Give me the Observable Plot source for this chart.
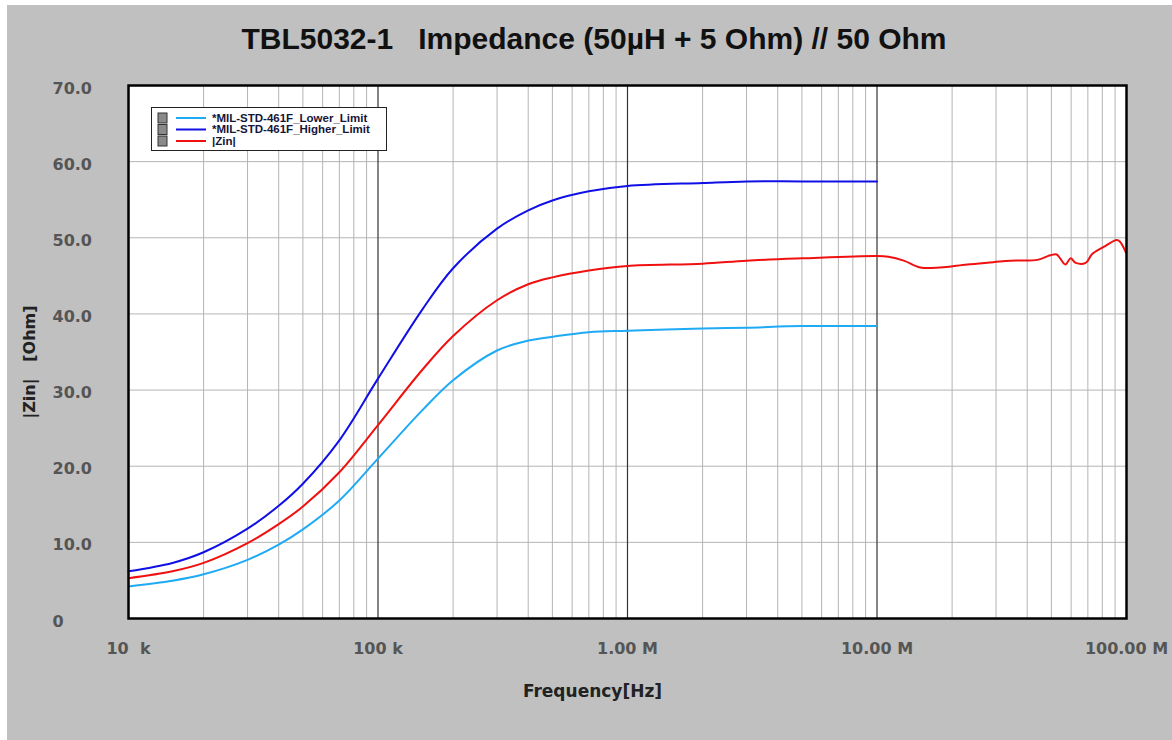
<!DOCTYPE html>
<html>
<head>
<meta charset="utf-8">
<script src="https://cdn.jsdelivr.net/npm/d3@7"></script>
<script src="https://cdn.jsdelivr.net/npm/@observablehq/plot@0.6"></script>
<style>
  html, body { margin: 0; padding: 0; background: #ffffff; }
  #panel { position: absolute; left: 7px; top: 5px; width: 1165px; height: 735px; background: #c0c0c0; font-family: "Liberation Sans", Arial, sans-serif; }
  #title { position: absolute; left: 0; top: 17px; width: 1174px; text-align: center; font-size: 30px; font-weight: bold; color: #111; white-space: pre; }
  #chart { position: absolute; left: 0; top: 0; }
  #legend { position: absolute; left: 0; top: 0; pointer-events: none; }
</style>
</head>
<body>
<div id="panel">
  <div id="chart"></div>
  <div id="title">TBL5032-1   Impedance (50µH + 5 Ohm) // 50 Ohm</div>
  <svg id="legend" width="1165" height="735"></svg>
</div>
<script>
// ---- data ----
const limitFreq   = [1e4, 1.5e4, 2e4, 3e4, 4e4, 5e4, 7e4, 1e5, 1.5e5, 2e5, 3e5, 4e5, 5e5, 7e5, 1e6, 2e6, 3e6, 5e6, 1e7];
const lowerLimit  = [4.2, 4.95, 5.8, 7.7, 9.7, 11.7, 15.5, 21.0, 27.3, 31.3, 35.2, 36.5, 37.0, 37.6, 37.8, 38.1, 38.2, 38.4, 38.4];
const higherLimit = [6.2, 7.3, 8.7, 11.8, 14.8, 17.7, 23.4, 31.5, 40.5, 46.0, 51.2, 53.6, 54.9, 56.1, 56.8, 57.2, 57.4, 57.4, 57.4];
const zinFreq = [1e4, 1.5e4, 2e4, 3e4, 4e4, 5e4, 7e4, 1e5, 1.5e5, 2e5, 3e5, 4e5, 5e5, 7e5, 1e6, 2e6, 3e6, 5e6, 1e7,
                 1.11e7, 1.28e7, 1.49e7, 1.79e7, 2.3e7, 2.93e7, 3.43e7, 4.4e7, 4.95e7, 5.25e7, 5.69e7, 5.97e7, 6.26e7, 6.86e7, 7.3e7, 8.1e7, 9.14e7, 9.4e7, 9.94e7];
const zinValues = [5.3, 6.2, 7.3, 9.9, 12.4, 14.7, 19.2, 25.4, 32.6, 37.1, 41.8, 43.9, 44.8, 45.7, 46.3, 46.6, 47.0, 47.3, 47.6,
                   47.5, 47.0, 46.1, 46.1, 46.5, 46.8, 47.0, 47.1, 47.7, 47.8, 46.5, 47.3, 46.7, 46.7, 47.9, 48.8, 49.7, 49.5, 48.1];
const xTicks = [1e4, 1e5, 1e6, 1e7, 1e8];
const xTickLabels = ["10\u00a0 k", "100 k", "1.00 M", "10.00 M", "100.00 M"];
const yTicks = [0, 10, 20, 30, 40, 50, 60, 70];
const yTickLabels = ["0", "10.0", "20.0", "30.0", "40.0", "50.0", "60.0", "70.0"];
const seriesNames = ["*MIL-STD-461F_Lower_Limit", "*MIL-STD-461F_Higher_Limit", "|Zin|"];
const seriesColors = ["#1eaaf5", "#1010e6", "#f01010"];

const minorTicks = [];
for (let e = 4; e < 8; e++) for (let m = 2; m <= 9; m++) minorTicks.push(m * Math.pow(10, e));

const lower = limitFreq.map((f, i) => ({f, v: lowerLimit[i]}));
const higher = limitFreq.map((f, i) => ({f, v: higherLimit[i]}));
const zin = zinFreq.map((f, i) => ({f, v: zinValues[i]}));

const axisFont = "DejaVu Sans, Verdana, sans-serif";

const chart = Plot.plot({
  width: 1165,
  height: 735,
  marginLeft: 121,
  marginRight: 46,
  marginTop: 80,
  marginBottom: 122,
  style: {background: "transparent", fontFamily: axisFont},
  x: {type: "log", domain: [1e4, 1e8]},
  y: {domain: [0, 70]},
  marks: [
    Plot.frame({fill: "#ffffff", stroke: "none"}),
    Plot.ruleX(minorTicks, {stroke: "#b4b4b4", strokeWidth: 1}),
    Plot.ruleY(yTicks.slice(1, -1), {stroke: "#b4b4b4", strokeWidth: 1}),
    Plot.ruleX(xTicks.slice(1, -1), {stroke: "#333333", strokeWidth: 1.2}),
    Plot.line(lower, {x: "f", y: "v", stroke: seriesColors[0], strokeWidth: 2, curve: "catmull-rom"}),
    Plot.line(higher, {x: "f", y: "v", stroke: seriesColors[1], strokeWidth: 2, curve: "catmull-rom"}),
    Plot.line(zin, {x: "f", y: "v", stroke: seriesColors[2], strokeWidth: 2, curve: "catmull-rom"}),
    Plot.frame({stroke: "#000000", strokeWidth: 2.5}),
    Plot.axisX({ticks: xTicks, tickFormat: d => xTickLabels[xTicks.indexOf(d)], tickSize: 0, tickPadding: 24,
      fontSize: 16, fontWeight: "bold", fill: "#555555", label: null}),
    Plot.axisY({ticks: yTicks, tickFormat: d => yTickLabels[yTicks.indexOf(d)], tickSize: 0, tickPadding: 0,
      textAnchor: "start", dx: -76, dy: 3, fontSize: 16, fontWeight: "bold", fill: "#555555", label: null}),
    Plot.text(["Frequency[Hz]"], {frameAnchor: "bottom", dy: 78, dx: -35, fontSize: 17, fontWeight: "bold", fill: "#222222"}),
    Plot.text(["|Zin|\u00a0\u00a0\u00a0[Ohm]"], {frameAnchor: "left", textAnchor: "middle", dx: -99, dy: 10, rotate: -90,
      fontSize: 16, fontWeight: "bold", fill: "#222222"})
  ]
});
document.getElementById("chart").appendChild(chart);

// ---- legend ----
const lg = d3.select("#legend");
const g = lg.append("g").attr("transform", "translate(144,102)");
g.append("rect").attr("x", 0.5).attr("y", 0.5).attr("width", 235).attr("height", 43)
  .attr("fill", "#ffffff").attr("stroke", "#222").attr("stroke-width", 1);
seriesNames.forEach((name, i) => {
  const cy = 11 + i * 11.5;
  g.append("rect").attr("x", 7).attr("y", cy - 5).attr("width", 9).attr("height", 10)
    .attr("fill", "#8a8a8a").attr("stroke", "#333").attr("stroke-width", 1);
  g.append("line").attr("x1", 25).attr("x2", 55).attr("y1", cy).attr("y2", cy)
    .attr("stroke", seriesColors[i]).attr("stroke-width", 2);
  g.append("text").attr("x", 61).attr("y", cy + 3.5).text(name)
    .attr("font-size", 11.5).attr("font-weight", "bold").attr("fill", "#15153a")
    .attr("font-family", "Liberation Sans, Arial, sans-serif");
});
</script>
</body>
</html>
